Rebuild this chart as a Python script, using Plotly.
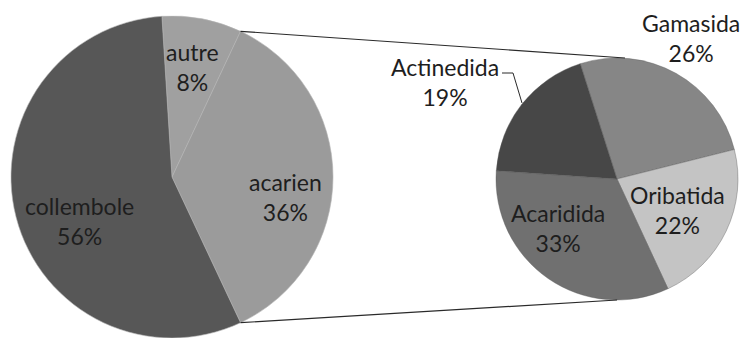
import math
import plotly.graph_objects as go

# ---- data ----
main_labels = ["autre", "acarien", "collembole"]
main_values = [8, 36, 56]
sub_labels = ["Gamasida", "Oribatida", "Acaridida", "Actinedida"]
sub_values = [26, 22, 33, 19]

# ---- styles / layout constants ----
W, H = 745, 338
main_colors = ["#a0a0a0", "#9b9b9b", "#575757"]
sub_colors = ["#868686", "#c4c4c4", "#707070", "#474747"]
main_rot = -3.6
sub_rot = -17.7
FONT = "Lato"
FS = 23
TXT = "#1e1e1e"

# pie geometry in pixels (center, radius) -> domains
c1 = (172, 177)
r1 = 161
c2 = (617, 179)
r2 = 121


def dom(c, r):
    return dict(x=[(c[0] - r) / W, (c[0] + r) / W],
                y=[max(0, 1 - (c[1] + r) / H), min(1, 1 - (c[1] - r) / H)])


fig = go.Figure()
fig.add_trace(go.Pie(
    labels=main_labels, values=main_values, sort=False, direction="clockwise",
    rotation=main_rot, textinfo="none", hoverinfo="none",
    marker=dict(colors=main_colors, line=dict(color="#b4b4b4", width=0.6)),
    domain=dom(c1, r1), showlegend=False))
fig.add_trace(go.Pie(
    labels=sub_labels, values=sub_values, sort=False, direction="clockwise",
    rotation=sub_rot, textinfo="none", hoverinfo="none",
    marker=dict(colors=sub_colors, line=dict(color="#5a5a5a", width=0.4)),
    domain=dom(c2, r2), showlegend=False))

# label block positions (pixels)
main_pos = [(192, 67), (285, 197), (79, 221)]
sub_pos = [(691, 38), (677, 210), (558, 228), (445, 82)]


def pct(vals):
    t = sum(vals)
    return [round(v / t * 100) for v in vals]


annotations = []
for lab, p, (px, py) in list(zip(main_labels, pct(main_values), main_pos)) + \
        list(zip(sub_labels, pct(sub_values), sub_pos)):
    annotations.append(dict(
        x=px / W, y=1 - py / H, xref="paper", yref="paper",
        text=f"{lab}<br>{p}%", showarrow=False, xanchor="center", yanchor="middle",
        font=dict(family=FONT, size=FS, color=TXT)))

# connector lines from the exploded slice (acarien) to the sub pie
tot = sum(main_values)
a_start = main_rot + 360 * sum(main_values[:1]) / tot
a_end = main_rot + 360 * sum(main_values[:2]) / tot


def pt(c, r, ang):
    a = math.radians(ang)
    return (c[0] + r * math.sin(a), c[1] - r * math.cos(a))


p_top = pt(c1, r1, a_start)
p_bot = pt(c1, r1, a_end)
q_top = (c2[0] + 8, c2[1] - r2)
q_bot = (c2[0], c2[1] + r2)

shapes = []
for (x0, y0), (x1, y1) in [(p_top, q_top), (p_bot, q_bot)]:
    shapes.append(dict(type="line", xref="paper", yref="paper",
                       x0=x0 / W, y0=1 - y0 / H, x1=x1 / W, y1=1 - y1 / H,
                       line=dict(color="#2a2a2a", width=1.2)))

# leader line for Actinedida
lead = [(502, 73), (513, 73), (522, 103)]
path = "M " + " L ".join(f"{x / W},{1 - y / H}" for x, y in lead)
shapes.append(dict(type="path", xref="paper", yref="paper", path=path,
                   line=dict(color="#2a2a2a", width=1)))

fig.update_layout(
    width=W, height=H, margin=dict(l=0, r=0, t=0, b=0),
    paper_bgcolor="white", plot_bgcolor="white",
    annotations=annotations, shapes=shapes)

fig.write_html("out.html", config={"displayModeBar": False},
               post_script="document.body.style.margin='0';document.body.style.overflow='hidden';")
